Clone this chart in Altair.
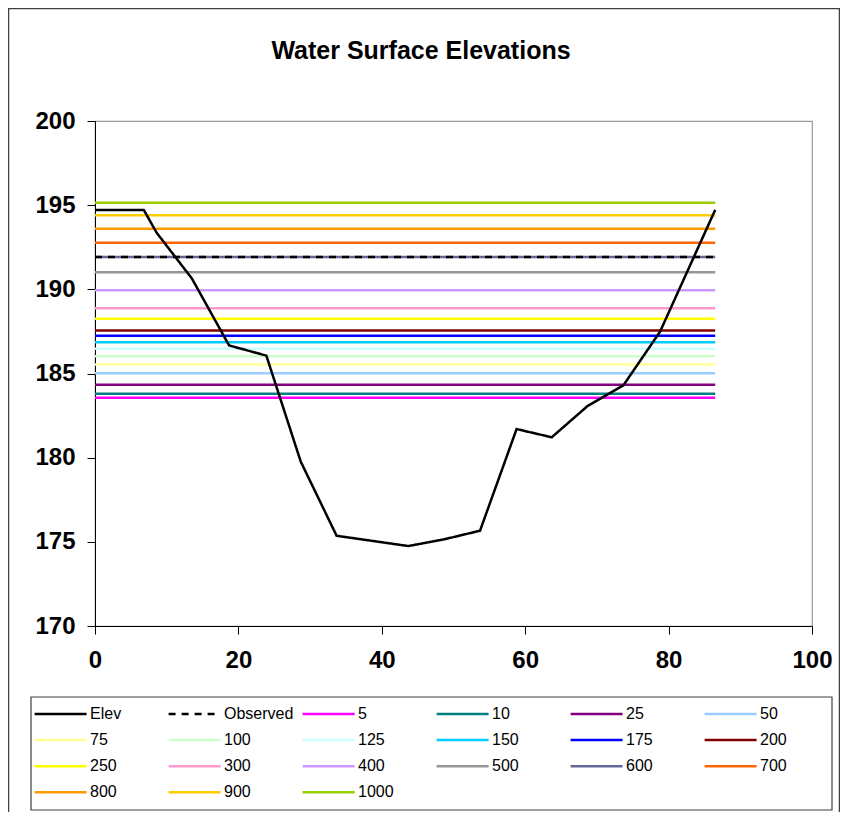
import altair as alt
import pandas as pd

FONT = "Liberation Sans"

# Cross-section profile
stations = [0, 6.8, 8.6, 13.5, 18.7, 23.9, 28.7, 33.7, 43.7, 48.7, 53.7, 58.8, 63.7, 68.7, 73.7, 78.8, 86.5]
elevations = [194.72, 194.72, 193.36, 190.65, 186.67, 186.06, 179.76, 175.36, 174.75, 175.15,
              175.66, 181.70, 181.21, 183.07, 184.30, 187.48, 194.72]

observed_wse = 191.92

# Return-period water surface elevations
rp_labels = ["5", "10", "25", "50", "75", "100", "125", "150", "175", "200",
             "250", "300", "400", "500", "600", "700", "800", "900", "1000"]
rp_wse = [183.56, 183.80, 184.33, 185.01, 185.54, 186.02, 186.47, 186.85, 187.24, 187.56,
          188.25, 188.87, 189.94, 191.01, 191.92, 192.77, 193.60, 194.40, 195.15]
rp_colors = ["#FF00FF", "#008080", "#800080", "#99CCFF", "#FFFF99", "#CCFFCC", "#CCFFFF",
             "#00CCFF", "#0000FF", "#800000", "#FFFF00", "#FF99CC", "#CC99FF", "#969696",
             "#666699", "#FF6600", "#FF9900", "#FFCC00", "#99CC00"]

x_ticks = [0, 20, 40, 60, 80, 100]
y_ticks = [170, 175, 180, 185, 190, 195, 200]

# ---- build table ----
rows = []
for s, e in zip(stations, elevations):
    rows.append({"station": s, "wse": e, "series": "Elev"})
for s in (stations[0], stations[-1]):
    rows.append({"station": s, "wse": observed_wse, "series": "Observed"})
for lab, v in zip(rp_labels, rp_wse):
    for s in (stations[0], stations[-1]):
        rows.append({"station": s, "wse": v, "series": lab})
df = pd.DataFrame(rows)

domain = ["Elev", "Observed"] + rp_labels
colors = ["#000000", "#000000"] + rp_colors
dashes = [[1, 0], [7, 6]] + [[1, 0]] * len(rp_labels)
widths = [2.5, 2.5] + [1.5] * len(rp_labels)

legend = alt.Legend(
    title=None, orient="none", legendX=-64, legendY=579, columns=6, direction="horizontal",
    gridAlign="all", symbolType="M-1.6,0H6.4", symbolSize=169, labelFont=FONT, labelFontSize=16,
    labelColor="#000000", labelOffset=37, columnPadding=3, rowPadding=10.1, padding=6,
    labelLimit=300,
)

base = alt.Chart(df).encode(
    x=alt.X("station:Q", scale=alt.Scale(domain=[0, 100], nice=False, zero=False),
            axis=alt.Axis(values=x_ticks, title=None, grid=False, tickSize=8,
                          labelFont=FONT, labelFontSize=24, labelFontWeight="bold",
                          labelColor="#000000", domainColor="#000000", tickColor="#000000",
                          labelPadding=14, labelFlush=False, labelOverlap=False)),
    y=alt.Y("wse:Q", scale=alt.Scale(domain=[170, 200], nice=False, zero=False),
            axis=alt.Axis(values=y_ticks, title=None, grid=False, tickSize=8,
                          labelFont=FONT, labelFontSize=24, labelFontWeight="bold",
                          labelColor="#000000", domainColor="#000000", tickColor="#000000",
                          labelPadding=12, labelOverlap=False)),
    color=alt.Color("series:N", scale=alt.Scale(domain=domain, range=colors), legend=legend),
    strokeDash=alt.StrokeDash("series:N", scale=alt.Scale(domain=domain, range=dashes)),
    strokeWidth=alt.StrokeWidth("series:N", scale=alt.Scale(domain=domain, range=widths)),
)

rp_layer = base.mark_line().transform_filter(
    alt.FieldOneOfPredicate(field="series", oneOf=rp_labels))
obs_layer = base.mark_line().transform_filter(alt.datum.series == "Observed")
elev_layer = base.mark_line(strokeJoin="miter").transform_filter(alt.datum.series == "Elev")

one = pd.DataFrame({"k": [0]})
# outer chart frame
frame = alt.Chart(one).mark_rect(
    filled=False, stroke="#404040", strokeWidth=1.5
).encode(x=alt.value(-86.5), x2=alt.value(744.5), y=alt.value(-112.5), y2=alt.value(700))
# legend box
legend_box = alt.Chart(one).mark_rect(
    filled=False, stroke="#404040", strokeWidth=1.2
).encode(x=alt.value(-64), x2=alt.value(737), y=alt.value(576), y2=alt.value(689))

chart = alt.layer(frame, legend_box, rp_layer, obs_layer, elev_layer).properties(
    width=717, height=505,
    autosize=alt.AutoSizeParams(type="none"),
    padding={"left": 87, "top": 113, "right": 28, "bottom": 186},
    title=alt.TitleParams("Water Surface Elevations", font=FONT, fontSize=25,
                          fontWeight="bold", color="#000000", anchor="middle",
                          dx=-32.5, offset=-56),
).configure_view(stroke="#999999", strokeWidth=1.2)

chart.save("out.html", embed_options={"renderer": "svg", "actions": False})
